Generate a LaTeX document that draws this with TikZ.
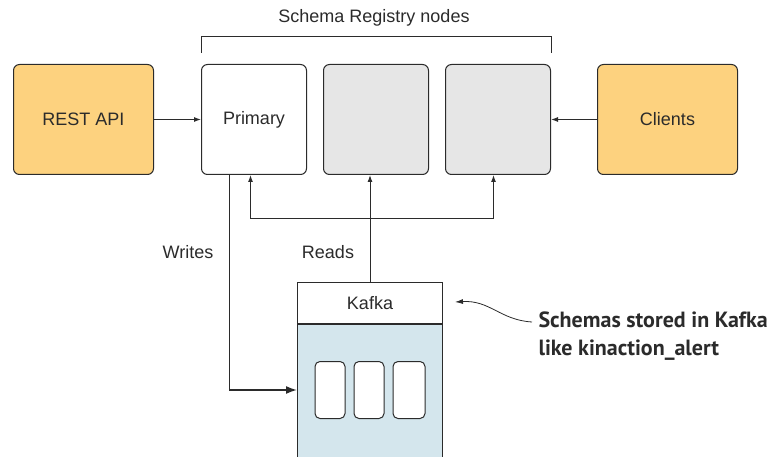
\documentclass[tikz,border=0pt]{standalone}
\usepackage{fontspec}
\setmainfont{Liberation Sans}
\newfontfamily\notefont{PT Sans}
\usetikzlibrary{arrows.meta, positioning}
\definecolor{apicol}{HTML}{FDD27F}
\definecolor{nodecol}{HTML}{E6E6E6}
\definecolor{kafcol}{HTML}{D4E6ED}
\definecolor{linecol}{HTML}{2B2B2B}

\begin{document}
\begin{tikzpicture}[x=1pt, y=-1pt, node distance=16pt and 16pt,
      every node/.style={font=\fontsize{18}{21}\selectfont, text=linecol},
      regbox/.style={rounded corners=6pt, draw=linecol, line width=1pt, minimum width=105pt,
                     minimum height=110pt, inner sep=0pt},
      endbox/.style={regbox, fill=apicol, minimum width=140pt},
      conn/.style={draw=linecol, line width=1pt, -{Latex[length=7pt,width=5pt]}},
      slot/.style={rounded corners=5pt, draw=linecol, line width=1pt, fill=white,
                   minimum width=30pt, minimum height=57pt, inner sep=0pt}]
    \useasboundingbox (0,0) rectangle (769,457);
    \clip (0,0) rectangle (769,457);
    % top row
    \node[endbox, anchor=north west] (rest) at (13,64) {REST API};
    \node[regbox, fill=white, right=47pt of rest] (prim) {Primary};
    \node[regbox, fill=nodecol, right=of prim] (sr2) {};
    \node[regbox, fill=nodecol, right=of sr2] (sr3) {};
    \node[endbox, right=46pt of sr3] (cli) {Clients};
    \draw[linecol, line width=1pt] ([yshift=11pt]prim.north west) -- ++(0,-16)
        -| ([yshift=11pt]sr3.north east);
    \node (title) at (374,18) {Schema Registry nodes};
    \draw[conn] (rest) -- (prim);
    \draw[conn] (cli) -- (sr3);
    % kafka
    \node[draw=linecol, fill=white, line width=1pt, minimum width=145pt, minimum height=41pt,
          inner sep=0pt, anchor=north west] (kafhead) at (297,282) {Kafka};
    \node[draw=linecol, fill=kafcol, line width=1pt, minimum width=145pt, minimum height=150pt,
          inner sep=0pt, below=0pt of kafhead] (kafbody) {};
    \node[slot] (slot2) at (369,390) {};
    \node[slot, left=8pt of slot2] (slot1) {};
    \node[slot, right=8pt of slot2, minimum width=32pt] (slot3) {};
    % writes and reads
    \draw[conn, line width=1.6pt, -{Latex[length=11pt,width=8pt]}]
        ([xshift=-24.5pt]prim.south) |- (kafbody.west |- slot2.center);
    \path (kafhead.north |- 0,219) coordinate (split);
    \draw[conn] (kafhead.north) -- (kafhead.north |- sr2.south);
    \draw[conn] (split) -| ([xshift=-3.5pt]prim.south);
    \draw[conn] (split) -| ([xshift=-4.5pt]sr3.south);
    \node (writes) at (188,252) {Writes};
    \node (reads) at (328,252) {Reads};
    % note
    \node[font=\notefont\bfseries\fontsize{22}{28}\selectfont, align=left, anchor=west]
        (note) at (535,336) {Schemas stored in Kafka\\like kinaction\_alert};
    \coordinate (tip) at (455,302);
    \draw[linecol, line width=0.8pt, -{Latex[length=8pt,width=5pt]}]
        ([xshift=-3pt, yshift=14pt]note.west) .. controls (500,320) and (490,300) .. (tip);
\end{tikzpicture}
\end{document}
